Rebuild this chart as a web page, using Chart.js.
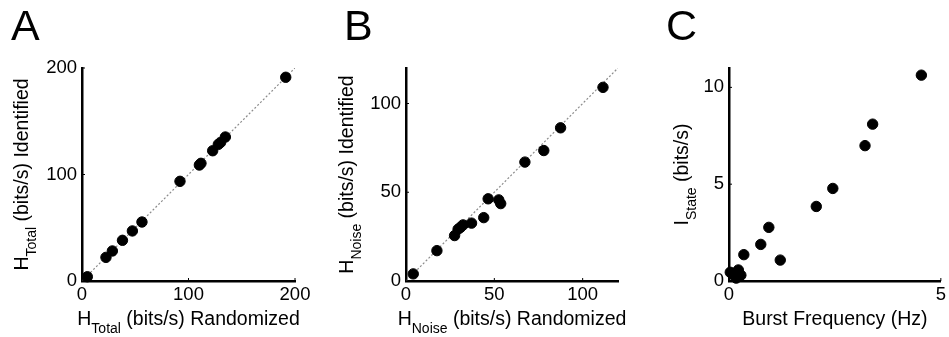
<!DOCTYPE html>
<html lang="en">

<head>
  <meta charset="UTF-8">
  <script src="https://cdn.jsdelivr.net/npm/chart.js"></script>
  <title>entropy scatter</title>
  <style>
    body {
      margin: 0;
      background: #fff;
    }
    .panel {
      position: absolute;
      top: 0;
    }
  </style>
</head>

<body>
  <canvas id="chartA" class="panel" width="316" height="337" style="left:0px"></canvas>
  <canvas id="chartB" class="panel" width="316" height="337" style="left:316px"></canvas>
  <canvas id="chartC" class="panel" width="317" height="337" style="left:632px"></canvas>

  <script>
    // panel A : H_Total
    const aRandomized = [5, 22.5, 28.5, 38, 47.3, 56.3, 92, 110.2, 111.7, 122.7, 128, 130.2, 134.6, 191.3];
    const aIdentified = [4, 22.2, 28.2, 38.2, 47, 55.4, 93.6, 108.9, 110.5, 122.3, 128.3, 130.2, 135.2, 191.3];
    const aDiagonal = [0, 200];
    const aTicks = [0, 100, 200];

    // panel B : H_Noise
    const bRandomized = [4.1, 17.5, 27.5, 29.5, 30.9, 32.3, 37.1, 44, 46.5, 52.5, 53.6, 67.3, 78, 87.5, 111.5];
    const bIdentified = [4, 17.1, 25.6, 29.2, 30.3, 31.6, 32.6, 35.7, 46.3, 45.7, 43.6, 67, 73.5, 86.3, 109.1];
    const bDiagonal = [0, 120];
    const bTicks = [0, 50, 100];

    // panel C : I_State vs burst frequency
    const cBurst = [0.03, 0.1, 0.22, 0.17, 0.28, 0.35, 0.75, 0.94, 1.21, 2.06, 2.45, 3.21, 3.39, 4.54];
    const cState = [0.45, 0.35, 0.57, 0.15, 0.3, 1.36, 1.89, 2.77, 1.08, 3.85, 4.78, 6.99, 8.1, 10.63];
    const cXTicks = [0, 5];
    const cYTicks = [0, 5, 10];

    const FONT = '"Liberation Sans", Arial, Helvetica, sans-serif';
    const H = 337;
    const AREA_TOP = 68, AREA_BOTTOM = 281;
    const MAIN = '19.5px ', SUB = '14px ';

    function pts(xs, ys) {
      return xs.map((x, i) => ({ x: x, y: ys[i] }));
    }

    // draws "main" + subscript + rest, starting at x, baseline y
    function subText(ctx, parts, x, y) {
      ctx.font = MAIN + FONT;
      ctx.fillText(parts[0], x, y);
      x += ctx.measureText(parts[0]).width;
      ctx.font = SUB + FONT;
      ctx.fillText(parts[1], x, y + 8);
      x += ctx.measureText(parts[1]).width;
      ctx.font = MAIN + FONT;
      ctx.fillText(parts[2], x, y);
    }

    function subWidth(ctx, parts) {
      ctx.font = MAIN + FONT;
      let w = ctx.measureText(parts[0]).width + ctx.measureText(parts[2]).width;
      ctx.font = SUB + FONT;
      return w + ctx.measureText(parts[1]).width;
    }

    const labelPlugin = {
      id: 'labels',
      afterDraw(chart, args, opts) {
        const ctx = chart.ctx;
        const area = chart.chartArea;
        const xs = chart.scales.x, ys = chart.scales.y;
        ctx.save();
        ctx.fillStyle = '#000';
        ctx.strokeStyle = '#000';
        ctx.textBaseline = 'alphabetic';
        ctx.textAlign = 'left';

        // small inward tick marks
        ctx.lineWidth = 1;
        ctx.beginPath();
        xs.ticks.forEach(t => {
          const px = xs.getPixelForValue(t.value);
          ctx.moveTo(px, area.bottom);
          ctx.lineTo(px, area.bottom - 3);
        });
        ys.ticks.forEach(t => {
          const py = ys.getPixelForValue(t.value);
          ctx.moveTo(area.left, py);
          ctx.lineTo(area.left + 3, py);
        });
        ctx.stroke();

        // panel letter
        ctx.font = '43px ' + FONT;
        ctx.fillText(opts.letter, opts.letterX, 40);

        // x title
        let w = subWidth(ctx, opts.xTitle);
        subText(ctx, opts.xTitle, (area.left + area.right) / 2 - w / 2, 325);

        // y title, rotated
        w = subWidth(ctx, opts.yTitle);
        ctx.translate(opts.yTitleX, (area.top + area.bottom) / 2);
        ctx.rotate(-Math.PI / 2);
        subText(ctx, opts.yTitle, -w / 2, 0);
        ctx.restore();
      }
    };

    function makeChart(id, cfg) {
      const canvas = document.getElementById(id);
      const W = canvas.width;
      const tickFont = { family: FONT, size: 18.5 };
      const datasets = [{
        data: cfg.points,
        backgroundColor: '#000',
        borderColor: '#000',
        pointRadius: 5.2,
        pointHoverRadius: 5.2,
        clip: false
      }];
      if (cfg.diagonal) {
        datasets.push({
          data: pts(cfg.diagonal, cfg.diagonal),
          showLine: true,
          pointRadius: 0,
          borderColor: '#8c8c8c',
          borderWidth: 1.2,
          borderDash: [2, 2]
        });
      }
      return new Chart(canvas.getContext('2d'), {
        type: 'scatter',
        data: { datasets: datasets },
        plugins: [labelPlugin],
        options: {
          responsive: false,
          animation: false,
          devicePixelRatio: 1,
          layout: {
            padding: { left: 0, right: W - cfg.right, top: AREA_TOP, bottom: 0 }
          },
          plugins: {
            legend: { display: false },
            tooltip: { enabled: false },
            labels: cfg.labels
          },
          scales: {
            x: {
              type: 'linear',
              min: cfg.xMin, max: cfg.xMax,
              grid: { display: false, drawTicks: false },
              border: { display: true, color: '#000', width: 2.5 },
              ticks: { font: tickFont, color: '#000', padding: 3, maxRotation: 0 },
              afterBuildTicks: s => { s.ticks = cfg.xTicks.map(v => ({ value: v })); },
              afterFit: s => { s.height = H - AREA_BOTTOM; }
            },
            y: {
              type: 'linear',
              min: cfg.yMin, max: cfg.yMax,
              grid: { display: false, drawTicks: false },
              border: { display: true, color: '#000', width: 2.5 },
              ticks: { font: tickFont, color: '#000', padding: 5 },
              afterBuildTicks: s => { s.ticks = cfg.yTicks.map(v => ({ value: v })); },
              afterFit: s => { s.width = cfg.left; }
            }
          }
        }
      });
    }

    makeChart('chartA', {
      points: pts(aRandomized, aIdentified),
      diagonal: aDiagonal,
      xMin: 0, xMax: 200, yMin: 0, yMax: 200,
      xTicks: aTicks, yTicks: aTicks,
      left: 82, right: 295,
      labels: {
        letter: 'A', letterX: 11, yTitleX: 28,
        xTitle: ['H', 'Total', ' (bits/s) Randomized'],
        yTitle: ['H', 'Total', ' (bits/s) Identified']
      }
    });

    makeChart('chartB', {
      points: pts(bRandomized, bIdentified),
      diagonal: bDiagonal,
      xMin: 0, xMax: 120, yMin: 0, yMax: 120,
      xTicks: bTicks, yTicks: bTicks,
      left: 90, right: 302,
      labels: {
        letter: 'B', letterX: 28, yTitleX: 37,
        xTitle: ['H', 'Noise', ' (bits/s) Randomized'],
        yTitle: ['H', 'Noise', ' (bits/s) Identified']
      }
    });

    makeChart('chartC', {
      points: pts(cBurst, cState),
      xMin: 0, xMax: 5, yMin: 0, yMax: 11,
      xTicks: cXTicks, yTicks: cYTicks,
      left: 97, right: 309,
      labels: {
        letter: 'C', letterX: 34, yTitleX: 56,
        xTitle: ['Burst Frequency (Hz)', '', ''],
        yTitle: ['I', 'State', ' (bits/s)']
      }
    });
  </script>
</body>

</html>
